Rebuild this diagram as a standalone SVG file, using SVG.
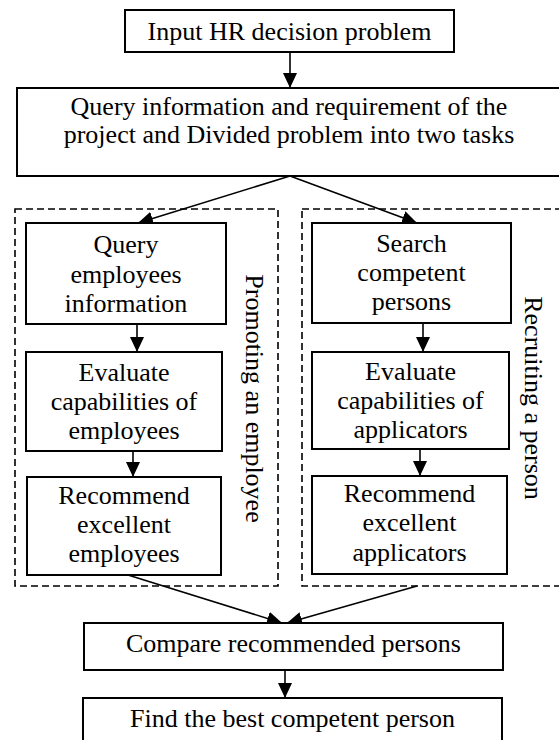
<svg xmlns="http://www.w3.org/2000/svg" width="559" height="740" viewBox="0 0 559 740">
<defs>
<style>
.box{fill:#fff;stroke:#000;stroke-width:2}
.grp{fill:none;stroke:#000;stroke-width:1.6;stroke-dasharray:7,4}
.t{font-family:"Liberation Serif","Times New Roman",serif;font-size:26px;fill:#000;text-anchor:middle}
.c{stroke:#000;stroke-width:1.6;fill:none}
</style>
<marker id="ah" markerWidth="15" markerHeight="14" refX="15" refY="7" orient="auto" markerUnits="userSpaceOnUse">
<path d="M0,0 L15,7 L0,14 Z" fill="#000"/>
</marker>
</defs>
<rect width="559" height="740" fill="#fff"/>
<g id="group-promote">
<rect class="grp" x="15" y="209" width="263" height="377"/>
<text class="t" transform="translate(246,398.5) rotate(90)">Promoting an employee</text>
</g>
<g id="group-recruit">
<rect class="grp" x="302" y="209" width="260" height="377"/>
<text class="t" transform="translate(525,398) rotate(90)">Recruiting a person</text>
</g>
<g id="connectors">
<line class="c" x1="290" y1="52" x2="290" y2="88" marker-end="url(#ah)"/>
<line class="c" x1="290" y1="176" x2="138" y2="223" marker-end="url(#ah)"/>
<line class="c" x1="290" y1="176" x2="417" y2="223" marker-end="url(#ah)"/>
<line class="c" x1="137" y1="324" x2="137" y2="352" marker-end="url(#ah)"/>
<line class="c" x1="133" y1="451" x2="133" y2="477" marker-end="url(#ah)"/>
<line class="c" x1="423" y1="323" x2="423" y2="352" marker-end="url(#ah)"/>
<line class="c" x1="420" y1="449" x2="420" y2="476" marker-end="url(#ah)"/>
<line class="c" x1="128" y1="575" x2="282" y2="623" marker-end="url(#ah)"/>
<line class="c" x1="417" y1="586" x2="287" y2="623" marker-end="url(#ah)"/>
<line class="c" x1="285" y1="670" x2="285" y2="698" marker-end="url(#ah)"/>
</g>
<g id="n-input">
<rect class="box" x="125" y="10" width="329" height="42"/>
<text class="t" x="289.5" y="39.5">Input HR decision problem</text>
</g>
<g id="n-query">
<rect class="box" x="17" y="88" width="545" height="88"/>
<text class="t" x="289" y="115">Query information and requirement of the</text>
<text class="t" x="289" y="143">project and Divided problem into two tasks</text>
</g>
<g id="n-query-emp">
<rect class="box" x="26" y="223" width="200" height="101"/>
<text class="t" x="126" y="253">Query</text>
<text class="t" x="126" y="282.5">employees</text>
<text class="t" x="126" y="312">information</text>
</g>
<g id="n-eval-emp">
<rect class="box" x="26" y="352" width="196" height="99"/>
<text class="t" x="124" y="381">Evaluate</text>
<text class="t" x="124" y="410">capabilities of</text>
<text class="t" x="124" y="439">employees</text>
</g>
<g id="n-rec-emp">
<rect class="box" x="27" y="477" width="194" height="98"/>
<text class="t" x="124" y="503.5">Recommend</text>
<text class="t" x="124" y="533">excellent</text>
<text class="t" x="124" y="562">employees</text>
</g>
<g id="n-search">
<rect class="box" x="312" y="223" width="199" height="100"/>
<text class="t" x="411.5" y="252">Search</text>
<text class="t" x="411.5" y="281">competent</text>
<text class="t" x="411.5" y="310">persons</text>
</g>
<g id="n-eval-app">
<rect class="box" x="312" y="352" width="197" height="97"/>
<text class="t" x="410.5" y="380">Evaluate</text>
<text class="t" x="410.5" y="409">capabilities of</text>
<text class="t" x="410.5" y="438">applicators</text>
</g>
<g id="n-rec-app">
<rect class="box" x="312" y="476" width="195" height="98"/>
<text class="t" x="409.5" y="502">Recommend</text>
<text class="t" x="409.5" y="531">excellent</text>
<text class="t" x="409.5" y="561">applicators</text>
</g>
<g id="n-compare">
<rect class="box" x="84" y="623" width="419" height="47"/>
<text class="t" x="293.5" y="652">Compare recommended persons</text>
</g>
<g id="n-find">
<rect class="box" x="83" y="698" width="419" height="60"/>
<text class="t" x="292.5" y="727">Find the best competent person</text>
</g>
</svg>
